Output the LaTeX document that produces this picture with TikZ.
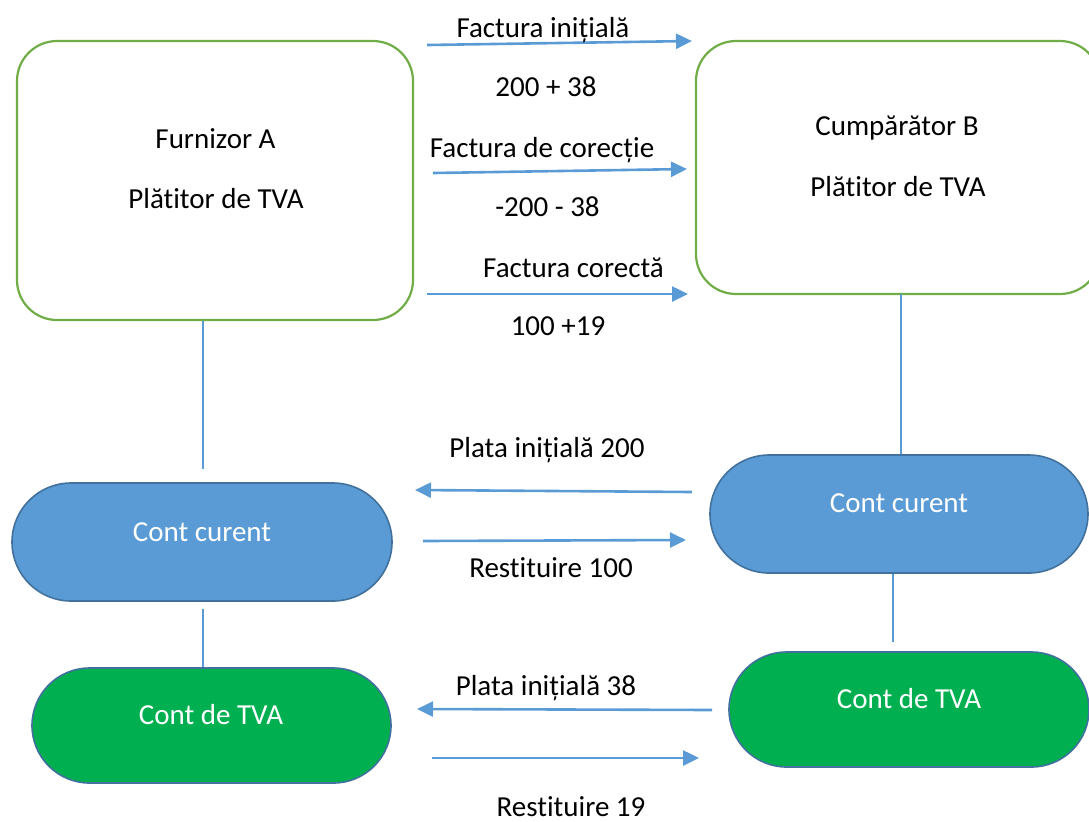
\documentclass[tikz,border=0pt]{standalone}
\usepackage{fontspec}
\setmainfont{Carlito}[Ligatures={NoCommon}]
\usetikzlibrary{arrows.meta}
\definecolor{boxgreen}{HTML}{70AD47}
\definecolor{linkblue}{HTML}{5B9BD5}
\definecolor{accblue}{HTML}{5B9BD5}
\definecolor{accedge}{HTML}{41719C}
\definecolor{accgreen}{HTML}{00B050}
\tikzset{
  party/.style={draw=boxgreen,line width=1.1pt,rounded corners=20pt,inner sep=0pt},
  account/.style={draw=accedge,line width=0.8pt,inner sep=0pt},
  txt/.style={font=\fontsize{14.5}{17}\selectfont,inner sep=0pt,anchor=base},
  wtxt/.style={txt,text=white},
  link/.style={draw=linkblue,line width=1pt},
  flow/.style={draw=linkblue,line width=1.3pt,-{Triangle[length=8pt,width=7.5pt]}}
}
\begin{document}
\begin{tikzpicture}[x=0.5pt,y=-0.5pt]
\useasboundingbox (0,0) rectangle (1089,821);
\clip (0,0) rectangle (1089,821);
% parties
\node[party,minimum width=198pt,minimum height=139.5pt] (A) at (215,180.5) {};
\node[party,minimum width=202pt,minimum height=126.5pt] (B) at (898,167.5) {};
\node[txt] (tA1) at (215.5,148) {Furnizor A};
\node[txt] (tA2) at (216,208) {Plătitor de TVA};
\node[txt] (tB1) at (897,135) {Cumpărător B};
\node[txt] (tB2) at (898,196) {Plătitor de TVA};
% accounts
\node[account,fill=accblue,minimum width=190pt,minimum height=59pt,rounded corners=29.5pt] (AC) at (202,542) {};
\node[account,fill=accblue,minimum width=189pt,minimum height=59pt,rounded corners=29.5pt] (BC) at (899,514) {};
\node[account,fill=accgreen,minimum width=179.5pt,minimum height=57.5pt,rounded corners=28.75pt] (AT) at (211.5,725.5) {};
\node[account,fill=accgreen,minimum width=180pt,minimum height=57.5pt,rounded corners=28.75pt] (BT) at (909,709.5) {};
\node[wtxt] (tAC) at (202,541) {Cont curent};
\node[wtxt] (tBC) at (899,512) {Cont curent};
\node[wtxt] (tAT) at (211,724) {Cont de TVA};
\node[wtxt] (tBT) at (909,708) {Cont de TVA};
% vertical links
\coordinate (a1) at (203,469);
\coordinate (a2) at (203,609);
\coordinate (b1) at (901,294);
\coordinate (b2) at (893,642);
\draw[link] (A.south -| a1) -- (a1);
\draw[link] (a2) -- (a2 |- AT.north);
\draw[link] (b1) -- (b1 |- BC.north);
\draw[link] (BC.south -| b2) -- (b2);
% flows
\coordinate (f1s) at (427,45);  \coordinate (f1e) at (692,41);
\coordinate (f2s) at (433,173); \coordinate (f2e) at (687,169);
\coordinate (f3s) at (427,294); \coordinate (f3e) at (688,294);
\coordinate (p1s) at (692,492); \coordinate (p1e) at (415,490);
\coordinate (r1s) at (423,541); \coordinate (r1e) at (686,540);
\coordinate (p2s) at (712,710); \coordinate (p2e) at (417,709);
\coordinate (r2s) at (432,758); \coordinate (r2e) at (699,758);
\draw[flow] (f1s) -- (f1e);
\draw[flow] (f2s) -- (f2e);
\draw[flow] (f3s) -- (f3e);
\draw[flow] (p1s) -- (p1e);
\draw[flow] (r1s) -- (r1e);
\draw[flow] (p2s) -- (p2e);
\draw[flow] (r2s) -- (r2e);
% flow labels
\node[txt] (l1) at (543,37) {Factura inițială};
\node[txt] (l2) at (546,96) {200 + 38};
\node[txt] (l3) at (542,157) {Factura de corecție};
\node[txt] (l4) at (547.5,216) {-200 - 38};
\node[txt] (l5) at (573.5,277) {Factura corectă};
\node[txt] (l6) at (558,335) {100 +19};
\node[txt] (l7) at (547,457) {Plata inițială 200};
\node[txt] (l8) at (551,577) {Restituire 100};
\node[txt] (l9) at (546,695) {Plata inițială 38};
\node[txt] (l10) at (571,816) {Restituire 19};
\end{tikzpicture}
\end{document}
